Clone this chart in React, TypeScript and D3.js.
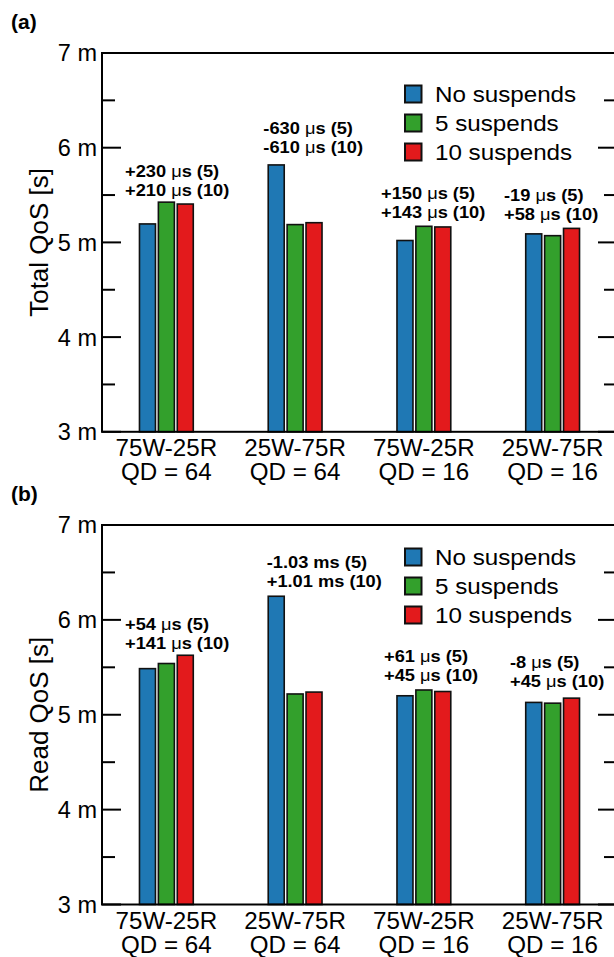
import React from "react";
import * as d3 from "d3";

// Workload categories on the x axis (two lines each)
const workloads = ["75W-25R", "25W-75R", "75W-25R", "25W-75R"];
const queueDepths = ["QD = 64", "QD = 64", "QD = 16", "QD = 16"];

// Series
const seriesNames = ["No suspends", "5 suspends", "10 suspends"];
const seriesColors = ["#1f78b4", "#33a02c", "#e31a1c"];

// Total QoS (ms)
const totalNoSuspends = [5.195, 5.818, 5.02, 5.09];
const total5Suspends = [5.425, 5.188, 5.17, 5.071];
const total10Suspends = [5.405, 5.208, 5.163, 5.148];

// Read QoS (ms)
const readNoSuspends = [5.486, 6.249, 5.2, 5.13];
const read5Suspends = [5.54, 5.219, 5.261, 5.122];
const read10Suspends = [5.627, 5.239, 5.245, 5.175];

// Difference annotations: [prefix, unit, suffix]
const totalNotes5 = [["+230 ", "μ", "s (5)"], ["-630 ", "μ", "s (5)"], ["+150 ", "μ", "s (5)"], ["-19 ", "μ", "s (5)"]];
const totalNotes10 = [["+210 ", "μ", "s (10)"], ["-610 ", "μ", "s (10)"], ["+143 ", "μ", "s (10)"], ["+58 ", "μ", "s (10)"]];
const readNotes5 = [["+54 ", "μ", "s (5)"], ["-1.03 ms (5)", "", ""], ["+61 ", "μ", "s (5)"], ["-8 ", "μ", "s (5)"]];
const readNotes10 = [["+141 ", "μ", "s (10)"], ["+1.01 ms (10)", "", ""], ["+45 ", "μ", "s (10)"], ["+45 ", "μ", "s (10)"]];

// Y axis ticks
const yTicks = [3, 3.5, 4, 4.5, 5, 5.5, 6, 6.5, 7];

// Annotation placement: horizontal offset from group centre (px), first-line baseline (value units)
const totalNoteDx = [-41.4, -31.8, -42.9, -48.6];
const totalNoteY = [5.694, 6.142, 5.455, 5.434];
const readNoteDx = [-41.4, -28.4, -39.9, -42.6];
const readNoteY = [5.895, 6.544, 5.561, 5.498];

const FONT = "'Liberation Sans', Arial, Helvetica, sans-serif";
const LEFT = 102;
const RIGHT = 617;

type PanelProps = {
  tag: string;
  tagY: number;
  yTop: number;
  yBottom: number;
  title: string;
  series: number[][];
  notes5: string[][];
  notes10: string[][];
  noteDx: number[];
  noteY: number[];
  legendTop: number;
};

function NoteLine({ x, y, parts }: { x: number; y: number; parts: string[] }) {
  return (
    <text
      transform={`translate(${x},${y}) scale(1.17,1)`}
      fontFamily={FONT}
      fontWeight="bold"
      fontSize={15.6}
      fill="#000"
    >
      {parts[0]}
      {parts[1] ? <tspan fontWeight="normal">{parts[1]}</tspan> : null}
      {parts[2]}
    </text>
  );
}

function Panel(p: PanelProps) {
  const x = d3.scaleBand<number>().domain(d3.range(workloads.length)).range([LEFT, RIGHT]);
  const y = d3.scaleLinear().domain([3, 7]).range([p.yBottom, p.yTop]);
  const center = (i: number) => (x(i) as number) + x.bandwidth() / 2;
  const barPitch = 18.9;
  const barW = 16;
  const midY = (p.yTop + p.yBottom) / 2;

  return (
    <g>
      <text x={11} y={p.tagY} fontFamily={FONT} fontWeight="bold" fontSize={21}>
        {p.tag}
      </text>
      <text
        transform={`translate(47.5,${midY}) rotate(-90)`}
        textAnchor="middle"
        fontFamily={FONT}
        fontSize={26}
      >
        {p.title}
      </text>

      {/* bars */}
      {p.series.map((vals, s) =>
        vals.map((v, i) => {
          const cx = center(i) + (s - 1) * barPitch;
          return (
            <rect
              key={`${s}-${i}`}
              x={cx - barW / 2}
              y={y(v)}
              width={barW}
              height={p.yBottom - y(v)}
              fill={seriesColors[s]}
              stroke="#111"
              strokeWidth={1.6}
            />
          );
        })
      )}

      {/* frame */}
      <rect
        x={LEFT}
        y={p.yTop}
        width={RIGHT - LEFT}
        height={p.yBottom - p.yTop}
        fill="none"
        stroke="#000"
        strokeWidth={2}
      />

      {/* ticks */}
      {yTicks.map((t) => {
        const major = Number.isInteger(t);
        const len = major ? 19 : 13;
        return (
          <g key={t}>
            <line x1={LEFT} x2={LEFT + len} y1={y(t)} y2={y(t)} stroke="#000" strokeWidth={2} />
            <line x1={RIGHT} x2={RIGHT - len} y1={y(t)} y2={y(t)} stroke="#000" strokeWidth={2} />
            {major ? (
              <text
                x={LEFT - 5}
                y={y(t)}
                dy="0.36em"
                textAnchor="end"
                fontFamily={FONT}
                fontSize={23.5}
              >
                {`${t} m`}
              </text>
            ) : null}
          </g>
        );
      })}

      {/* category labels */}
      {workloads.map((w, i) => (
        <g key={i}>
          <text
            transform={`translate(${center(i)},${p.yBottom + 24.5}) scale(1.05,1)`}
            textAnchor="middle"
            fontFamily={FONT}
            fontSize={23}
          >
            {w}
          </text>
          <text
            transform={`translate(${center(i)},${p.yBottom + 48.5}) scale(1.05,1)`}
            textAnchor="middle"
            fontFamily={FONT}
            fontSize={23}
          >
            {queueDepths[i]}
          </text>
        </g>
      ))}

      {/* difference annotations */}
      {workloads.map((_, i) => (
        <g key={`n${i}`}>
          <NoteLine x={center(i) + p.noteDx[i]} y={y(p.noteY[i])} parts={p.notes5[i]} />
          <NoteLine x={center(i) + p.noteDx[i]} y={y(p.noteY[i]) + 19} parts={p.notes10[i]} />
        </g>
      ))}

      {/* legend */}
      {seriesNames.map((name, s) => {
        const top = p.legendTop + s * 29;
        return (
          <g key={name}>
            <rect x={405} y={top} width={16.5} height={17} fill={seriesColors[s]} stroke="#111" strokeWidth={2} />
            <text
              transform={`translate(435,${top + 16}) scale(1.1,1)`}
              fontFamily={FONT}
              fontSize={22}
            >
              {name}
            </text>
          </g>
        );
      })}
    </g>
  );
}

export default function App() {
  return (
    <div style={{ position: "absolute", left: 0, top: 0 }}>
      <svg width={614} height={957} style={{ display: "block", background: "#fff" }}>
        <Panel
          tag="(a)"
          tagY={29}
          yTop={53}
          yBottom={431.8}
          title="Total QoS [s]"
          series={[totalNoSuspends, total5Suspends, total10Suspends]}
          notes5={totalNotes5}
          notes10={totalNotes10}
          noteDx={totalNoteDx}
          noteY={totalNoteY}
          legendTop={85.5}
        />
        <Panel
          tag="(b)"
          tagY={501}
          yTop={525}
          yBottom={904.5}
          title="Read QoS [s]"
          series={[readNoSuspends, read5Suspends, read10Suspends]}
          notes5={readNotes5}
          notes10={readNotes10}
          noteDx={readNoteDx}
          noteY={readNoteY}
          legendTop={548.5}
        />
      </svg>
    </div>
  );
}
